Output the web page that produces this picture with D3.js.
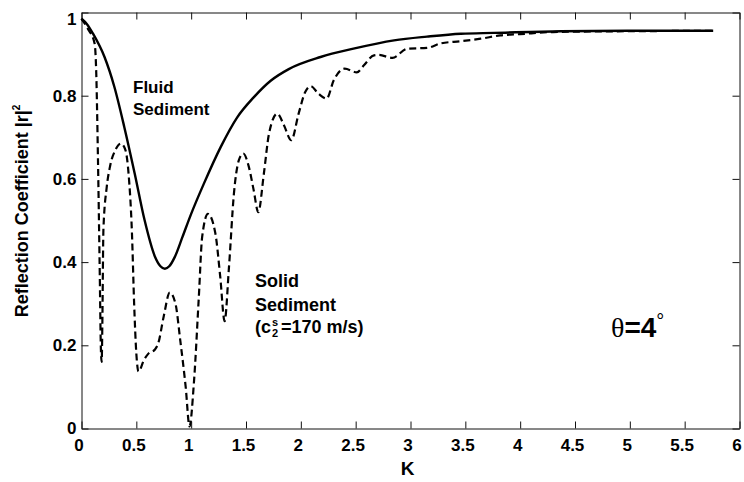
<!DOCTYPE html>
<meta charset="utf-8">
<script src="https://d3js.org/d3.v7.min.js"></script>
<style>
  body { margin: 0; background: #fff; }
  text { font-family: "Liberation Sans", Arial, sans-serif; font-weight: bold; fill: #000; }
</style>
<div id="my_dataviz"></div>
<script>

// tick values
const xTicks = [0, 0.5, 1, 1.5, 2, 2.5, 3, 3.5, 4, 4.5, 5, 5.5, 6];
const yTicks = [0, 0.2, 0.4, 0.6, 0.8, 1];

// fluid sediment (solid line)
const kFluid = [0, 0.05, 0.105, 0.21, 0.30, 0.39, 0.485, 0.575, 0.67, 0.72, 0.76, 0.80, 0.85, 0.92, 1.0, 1.115,
  1.27, 1.42, 1.57, 1.725, 1.89, 2.18, 2.48, 2.85, 3.15, 3.46, 3.76, 4.37, 5.0, 5.76];
const rFluid = [0.985, 0.972, 0.949, 0.893, 0.821, 0.725, 0.613, 0.501, 0.413, 0.39, 0.384, 0.39, 0.412, 0.46, 0.516, 0.588,
  0.677, 0.748, 0.796, 0.836, 0.864, 0.893, 0.913, 0.933, 0.942, 0.949, 0.951, 0.955, 0.956, 0.956];

// solid sediment (dashed line)
const kSolid = [0, 0.06, 0.12, 0.135, 0.15, 0.165, 0.178, 0.184, 0.19, 0.2, 0.23, 0.26, 0.31, 0.36, 0.40, 0.43, 0.46,
  0.48, 0.50, 0.52, 0.57, 0.61, 0.67, 0.70, 0.75, 0.805, 0.857, 0.90, 0.95, 0.985, 1.025, 1.07, 1.10, 1.153,
  1.22, 1.265, 1.305, 1.345, 1.39, 1.435, 1.475, 1.526, 1.57, 1.612, 1.663, 1.71, 1.785, 1.846, 1.913, 1.98,
  2.04, 2.09, 2.16, 2.235, 2.30, 2.40, 2.51, 2.575, 2.667, 2.71, 2.835, 2.97, 3.15, 3.28, 3.46, 3.64, 3.82,
  4.0, 4.3, 5.0, 5.76];
const rSolid = [0.985, 0.96, 0.925, 0.85, 0.65, 0.40, 0.18, 0.16, 0.25, 0.48, 0.58, 0.63, 0.67, 0.685, 0.67, 0.61, 0.47,
  0.30, 0.18, 0.137, 0.165, 0.18, 0.19, 0.205, 0.27, 0.327, 0.30, 0.213, 0.10, 0.005, 0.11, 0.317, 0.46, 0.516,
  0.47, 0.365, 0.258, 0.389, 0.565, 0.645, 0.661, 0.629, 0.573, 0.52, 0.613, 0.709, 0.757, 0.729, 0.693, 0.757,
  0.809, 0.823, 0.805, 0.793, 0.837, 0.865, 0.856, 0.873, 0.897, 0.898, 0.891, 0.913, 0.915, 0.926, 0.931, 0.937, 0.945,
  0.948, 0.953, 0.955, 0.956];

const W = 744, H = 482;
const margin = {top: 12.5, right: 4.5, bottom: 53.5, left: 81.5},
    width = W - margin.left - margin.right,
    height = H - margin.top - margin.bottom;

const svg = d3.select("#my_dataviz")
  .append("svg")
    .attr("width", W)
    .attr("height", H)
  .append("g")
    .attr("transform", `translate(${margin.left},${margin.top})`);

const x = d3.scaleLinear().domain([0, 6]).range([0, width]);
const y = d3.scaleLinear().domain([0, 1]).range([height, 0]);
const fmt = d3.format("~g");

// axes, ticks pointing inward like the original
const xAxis = svg.append("g")
  .attr("transform", `translate(0,${height})`)
  .call(d3.axisBottom(x).tickValues(xTicks).tickFormat(fmt).tickSize(-7).tickSizeOuter(0).tickPadding(10));
xAxis.selectAll("text").attr("dx", -3);

const yAxis = svg.append("g")
  .call(d3.axisLeft(y).tickValues(yTicks).tickFormat(fmt).tickSize(-7).tickSizeOuter(0).tickPadding(5));
yAxis.selectAll(".tick").filter(d => d === 1).select("text").attr("dy", "0.32em").attr("y", 7);

svg.append("g")
  .call(d3.axisTop(x).tickValues(xTicks).tickFormat("").tickSize(-7).tickSizeOuter(0));
svg.append("g")
  .attr("transform", `translate(${width},0)`)
  .call(d3.axisRight(y).tickValues(yTicks).tickFormat("").tickSize(-7).tickSizeOuter(0));

svg.selectAll(".domain, .tick line").attr("stroke", "#111");
svg.selectAll(".tick text")
  .attr("font-size", 17)
  .attr("font-family", "Liberation Sans, Arial, sans-serif")
  .attr("font-weight", "bold")
  .attr("fill", "#000");

// curves
const line = d3.line()
  .x(d => x(d[0]))
  .y(d => y(d[1]))
  .curve(d3.curveMonotoneX);

svg.append("path")
  .datum(d3.zip(kSolid, rSolid))
  .attr("fill", "none")
  .attr("stroke", "#000")
  .attr("stroke-width", 2.2)
  .attr("stroke-dasharray", "7,4")
  .attr("d", line);

svg.append("path")
  .datum(d3.zip(kFluid, rFluid))
  .attr("fill", "none")
  .attr("stroke", "#000")
  .attr("stroke-width", 2.4)
  .attr("d", line);

// axis titles
svg.append("text")
  .attr("x", x(3) - 3)
  .attr("y", height + 46)
  .attr("text-anchor", "middle")
  .attr("font-size", 19)
  .text("K");

const yl = svg.append("text")
  .attr("transform", `translate(${28 - margin.left},${211 - margin.top}) rotate(-90)`)
  .attr("text-anchor", "middle")
  .attr("font-size", 18);
yl.append("tspan").text("Reflection Coefficient |r|");
yl.append("tspan").attr("font-size", 10).attr("dy", -8).text("2");

// annotations
const fluid = svg.append("text").attr("font-size", 17);
fluid.append("tspan").attr("x", 133 - margin.left).attr("y", 93 - margin.top).text("Fluid");
fluid.append("tspan").attr("x", 133 - margin.left).attr("y", 115 - margin.top).text("Sediment");

const solid = svg.append("text").attr("font-size", 18);
solid.append("tspan").attr("x", 255 - margin.left).attr("y", 287 - margin.top).text("Solid");
solid.append("tspan").attr("x", 255 - margin.left).attr("y", 311 - margin.top).text("Sediment");

const cx0 = 255 - margin.left, cy0 = 333 - margin.top;
const cPart = svg.append("text").attr("font-size", 18).attr("x", cx0).attr("y", cy0).text("(c");
const cw = cPart.node().getComputedTextLength();
svg.append("text").attr("font-size", 11).attr("x", cx0 + cw + 1).attr("y", cy0 - 7).text("s");
svg.append("text").attr("font-size", 11).attr("x", cx0 + cw + 1).attr("y", cy0 + 4).text("2");
svg.append("text").attr("font-size", 18).attr("x", cx0 + cw + 10).attr("y", cy0).text("=170 m/s)");

const th = svg.append("text")
  .attr("x", 611 - margin.left)
  .attr("y", 337 - margin.top)
  .attr("font-size", 28);
th.append("tspan").attr("font-family", "Liberation Serif, serif").attr("font-weight", "normal").text("θ");
th.append("tspan").text("=4");
th.append("tspan").attr("font-weight", "normal").attr("font-size", 20).attr("dy", -9).text("°");

</script>
